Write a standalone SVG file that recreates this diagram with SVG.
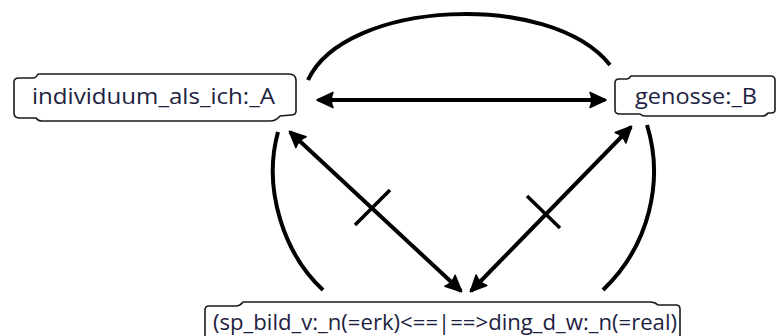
<svg xmlns="http://www.w3.org/2000/svg" width="778" height="336" viewBox="0 0 778 336">
<defs>
<style>
.box{fill:#fff;stroke:#1a1a1a;stroke-width:1.6;stroke-linejoin:round}
.lbl{font-family:"Open Sans","DejaVu Sans",sans-serif;font-size:21px;fill:#1e2240}
.edge{fill:none;stroke:#000;stroke-width:4;stroke-linecap:butt}
.arc{fill:none;stroke:#000;stroke-width:4}
.tick{fill:none;stroke:#000;stroke-width:3.5}
</style>
<marker id="ah" viewBox="0 0 18 18" refX="16" refY="9" markerWidth="18" markerHeight="18" markerUnits="userSpaceOnUse" orient="auto-start-reverse">
<path d="M1,1.5 L17,9 L1,16.5 Q4.5,9 1,1.5 Z" fill="#000" stroke="#000" stroke-width="1.5" stroke-linejoin="round"/>
</marker>
</defs>
<g id="connectors">
<path class="arc" d="M308,80 C345,0 550,-10 610,65"/>
<path class="arc" d="M278,132 C262,190 285,255 323,290"/>
<path class="arc" d="M647,125 C664,180 650,245 603,290"/>
<line class="edge" x1="318" y1="100" x2="605" y2="100" marker-start="url(#ah)" marker-end="url(#ah)"/>
<line class="edge" x1="290" y1="132" x2="461" y2="291" marker-start="url(#ah)" marker-end="url(#ah)"/>
<line class="tick" x1="355" y1="225" x2="390" y2="190"/>
<line class="edge" x1="631" y1="127" x2="471" y2="291" marker-start="url(#ah)" marker-end="url(#ah)"/>
<line class="tick" x1="527" y1="196" x2="560" y2="228"/>
</g>
<g id="node-a">
<path class="box" d="M14,82 Q14,78 19,78 L33,78 Q36,78 38,74 L289,74 Q296,74 296,81 L296,111 Q296,115 291,115 L280,116 Q276,121 270,121 L42,121 Q38,121 36,118 L20,118 Q14,118 14,113 Z"/>
<text class="lbl" x="32" y="104" textLength="243" lengthAdjust="spacingAndGlyphs">individuum_als_ich:_A</text>
</g>
<g id="node-b">
<path class="box" d="M615,83 Q615,79 619,79 L627,79 Q629,79 631,76 L770,76 Q775,76 775,80 L775,110 Q775,113 771,113 L768,113 Q766,116 762,116 L645,116 Q642,116 640,114 L620,114 Q615,114 615,110 Z"/>
<text class="lbl" x="635" y="104" textLength="122" lengthAdjust="spacingAndGlyphs">genosse:_B</text>
</g>
<g id="node-c">
<path class="box" d="M205,345 L205,310 Q205,306 209,306 L236,306 Q240,306 243,302 L650,302 Q655,302 658,305 L676,305 Q680,305 680,309 L680,345"/>
<text class="lbl" x="213" y="330" font-size="20" textLength="464" lengthAdjust="spacingAndGlyphs">(sp_bild_v:_n(=erk)&lt;==|==&gt;ding_d_w:_n(=real)</text>
</g>
</svg>
